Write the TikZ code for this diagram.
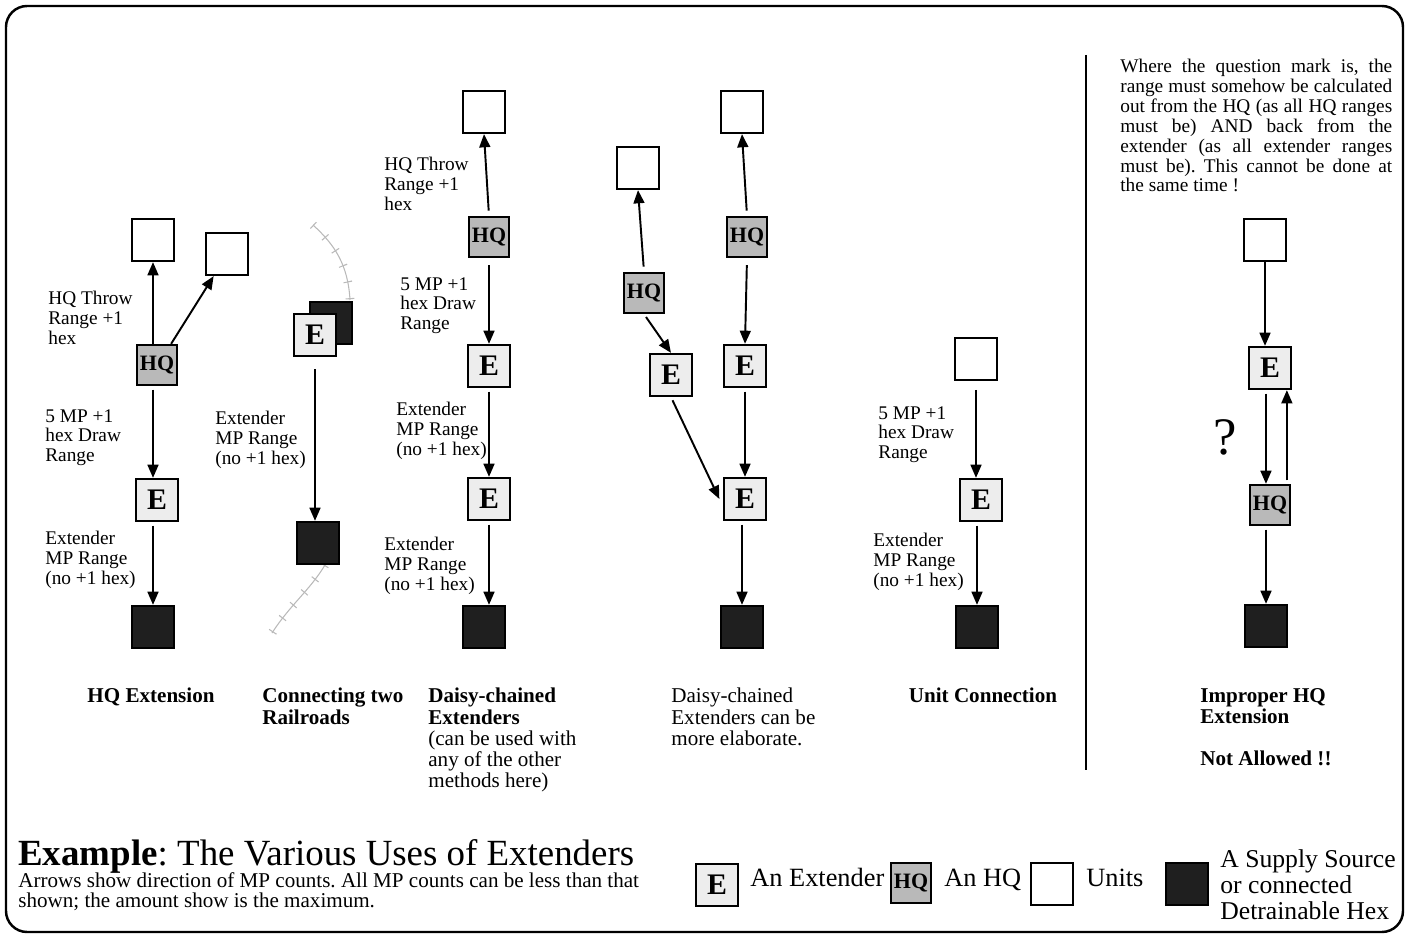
\documentclass[tikz,border=0pt]{standalone}
\usepackage{fontspec}
\setmainfont{Liberation Serif}
\usetikzlibrary{arrows.meta}
\frenchspacing
\tikzset{
    sq/.style={draw, line width=1.3pt, minimum size=0.84cm, inner sep=0pt},
    unitsq/.style={sq, fill=white},
    extsq/.style={sq, fill=gray!14, font=\fontsize{17}{17}\selectfont\bfseries},
    hqsq/.style={sq, fill=gray!55, minimum size=0.8cm, font=\fontsize{12.5}{12.5}\selectfont\bfseries},
    supsq/.style={sq, fill=black!88},
    arr/.style={-{Triangle[length=7.5pt,width=6.2pt]}, line width=1.1pt},
    lbl/.style={anchor=north west, align=left, inner sep=0pt, font=\fontsize{11}{11.3}\selectfont},
    capt/.style={anchor=north west, align=left, inner sep=0pt, font=\fontsize{12}{12}\selectfont},
    rail/.style={gray!55, line width=0.6pt},
    ties/.style={gray!55, line width=5pt, dash pattern=on 0.6pt off 9pt}
}
\newcommand{\jline}[1]{\makebox[5.44cm][s]{#1}}
\begin{document}
\begin{tikzpicture}[x=0.02cm, y=-0.02cm]
                    \useasboundingbox (0,0) rectangle (1406,936);
                    % Frame
                    \draw[line width=1.4pt, rounded corners=12pt] (6,6) rectangle (1403,932);
                    \draw[line width=1pt] (1086,55) -- (1086,770);
                    % HQ Extension
                    \node[unitsq] (ua) at (153,240) {};
                    \node[unitsq] (ub) at (227,254) {};
                    \node[hqsq] (hqa) at (157,365) {HQ};
                    \node[extsq] (ea) at (157,500) {E};
                    \node[supsq] (sa) at (153,627) {};
                    \draw[arr] (hqa.north -| ua) -- (ua.south);
                    \draw[arr] ([xshift=-4pt]hqa.north east) -- ([xshift=5pt]ub.south west);
                    \draw[arr, shorten <=2pt] (hqa.south -| sa) -- (ea.north -| sa);
                    \draw[arr, shorten <=2pt] (ea.south -| sa) -- (sa.north);
                    \node[lbl] (la1) at (48,291) {HQ Throw\\Range +1\\hex};
                    \node[lbl] (la2) at (45,409) {5 MP +1\\hex Draw\\Range};
                    \node[lbl] (la3) at (45,531) {Extender\\MP Range\\(no +1 hex)};
                    \node[capt, anchor=north] (ca) at (151,688) {\textbf{HQ Extension}};
                    % Connecting two Railroads
                    \draw[rail] (313,225) .. controls (335,245) and (348,265) .. (350,300);
                    \draw[ties] (313,225) .. controls (335,245) and (348,265) .. (350,300);
                    \draw[rail] (325,565) .. controls (310,590) and (290,605) .. (272,633);
                    \draw[ties] (325,565) .. controls (310,590) and (290,605) .. (272,633);
                    \node[supsq] (rb) at (331,323) {};
                    \node[extsq] (er) at (315,335) {E};
                    \node[supsq] (sr) at (318,543) {};
                    \draw[arr, shorten <=7pt] (er.south) -- (er.south |- sr.north);
                    \node[lbl] (lb1) at (215,411) {Extender\\MP Range\\(no +1 hex)};
                    \node[capt] (cb) at (262,688) {\textbf{Connecting two}\\\textbf{Railroads}};
                    % Daisy-chained Extenders
                    \node[unitsq] (uc) at (484,112) {};
                    \node[hqsq] (hqc) at (489,237) {HQ};
                    \node[extsq] (ec1) at (489,366) {E};
                    \node[extsq] (ec2) at (489,499) {E};
                    \node[supsq] (sc) at (484,627) {};
                    \draw[arr, shorten <=3pt] (hqc.north) -- (uc.south);
                    \draw[arr, shorten <=4pt] (hqc.south) -- (ec1.north);
                    \draw[arr, shorten <=2pt] (ec1.south) -- (ec2.north);
                    \draw[arr, shorten <=2pt] (ec2.south) -- (ec2.south |- sc.north);
                    \node[lbl] (lc1) at (384,157) {HQ Throw\\Range +1\\hex};
                    \node[lbl] (lc2) at (400,277) {5 MP +1\\hex Draw\\Range};
                    \node[lbl] (lc3) at (396,402) {Extender\\MP Range\\(no +1 hex)};
                    \node[lbl] (lc4) at (384,537) {Extender\\MP Range\\(no +1 hex)};
                    \node[capt] (cc) at (428,688) {\textbf{Daisy-chained}\\\textbf{Extenders}\\(can be used with\\any of the other\\methods here)};
                    % More elaborate chain
                    \node[unitsq] (ul) at (638,168) {};
                    \node[unitsq] (ur) at (742,112) {};
                    \node[hqsq] (hql) at (644,293) {HQ};
                    \node[hqsq] (hqr) at (747,237) {HQ};
                    \node[extsq] (el) at (671,375) {E};
                    \node[extsq] (erb) at (745,366) {E};
                    \node[extsq] (eb) at (745,499) {E};
                    \node[supsq] (sd) at (742,627) {};
                    \draw[arr, shorten <=3pt] (hql.north) -- (ul.south);
                    \draw[arr, shorten <=3pt] (hqr.north) -- (ur.south);
                    \draw[arr, shorten <=2pt] (hql.south) -- (el.north);
                    \draw[arr, shorten <=4pt] (hqr.south) -- (erb.north);
                    \draw[arr, shorten <=2pt] (el.south) -- ([xshift=-2pt]eb.west);
                    \draw[arr, shorten <=2pt] (erb.south) -- (eb.north);
                    \draw[arr, shorten <=2pt] (eb.south -| sd) -- (sd.north);
                    \node[capt] (cd) at (671,688) {Daisy-chained\\Extenders can be\\more elaborate.};
                    % Unit Connection
                    \node[unitsq] (ue) at (976,359) {};
                    \node[extsq] (ee) at (981,500) {E};
                    \node[supsq] (se) at (977,627) {};
                    \draw[arr, shorten <=5pt] (ue.south) -- (ue.south |- ee.north);
                    \draw[arr, shorten <=2pt] (ee.south -| se) -- (se.north);
                    \node[lbl] (le1) at (878,406) {5 MP +1\\hex Draw\\Range};
                    \node[lbl] (le2) at (873,533) {Extender\\MP Range\\(no +1 hex)};
                    \node[capt, anchor=north] (ce) at (983,688) {\textbf{Unit Connection}};
                    % Improper HQ Extension
                    \node[unitsq] (uf) at (1265,240) {};
                    \node[extsq] (ef) at (1270,368) {E};
                    \node[hqsq] (hqf) at (1270,505) {HQ};
                    \node[supsq] (sf) at (1266,626) {};
                    \draw[arr] (uf.south) -- (uf.south |- ef.north);
                    \draw[arr, shorten <=2pt] ([xshift=-2.3pt]ef.south) -- ([xshift=-2.3pt]ef.south |- hqf.north);
                    \draw[arr, shorten <=2pt] ([xshift=9.6pt]hqf.north) -- ([xshift=9.6pt]hqf.north |- ef.south);
                    \draw[arr, shorten <=2pt] (hqf.south -| sf) -- (sf.north);
                    \node[font=\fontsize{30}{30}\selectfont] (qm) at (1225,437) {?};
                    \node[lbl] (note) at (1120,59) {\jline{Where the question mark is, the}\\\jline{range must somehow be calculated}\\\jline{out from the HQ (as all HQ ranges}\\\jline{must be) AND back from the}\\\jline{extender (as all extender ranges}\\\jline{must be). This cannot be done at}\\the same time !};
                    \node[capt] (cf) at (1200,688) {\textbf{Improper HQ}\\\textbf{Extension}};
                    \node[capt] (cf2) at (1200,751) {\textbf{Not Allowed !!}};
                    % Title
                    \node[anchor=base west, inner sep=0pt, font=\fontsize{21}{21}\selectfont] (title) at (18,865) {\textbf{Example}: The Various Uses of Extenders};
                    \node[anchor=north west, align=left, inner sep=0pt, font=\fontsize{12}{11.3}\selectfont] (sub) at (18,872) {Arrows show direction of MP counts. All MP counts can be less than that\\shown; the amount show is the maximum.};
                    % Legend
                    \node[extsq] (ke) at (717,885) {E};
                    \node[anchor=base west, inner sep=0pt, font=\fontsize{15}{15}\selectfont] (kte) at (750,886) {An Extender};
                    \node[hqsq] (kh) at (911,883) {HQ};
                    \node[anchor=base west, inner sep=0pt, font=\fontsize{15}{15}\selectfont] (kth) at (944,886) {An HQ};
                    \node[unitsq] (ku) at (1052,884) {};
                    \node[anchor=base west, inner sep=0pt, font=\fontsize{15}{15}\selectfont] (ktu) at (1086,886) {Units};
                    \node[supsq] (ks) at (1187,884) {};
                    \node[anchor=north west, align=left, inner sep=0pt, font=\fontsize{14.6}{14.8}\selectfont] (kts) at (1220,849) {A Supply Source\\or connected\\Detrainable Hex};
                \end{tikzpicture}
\end{document}
